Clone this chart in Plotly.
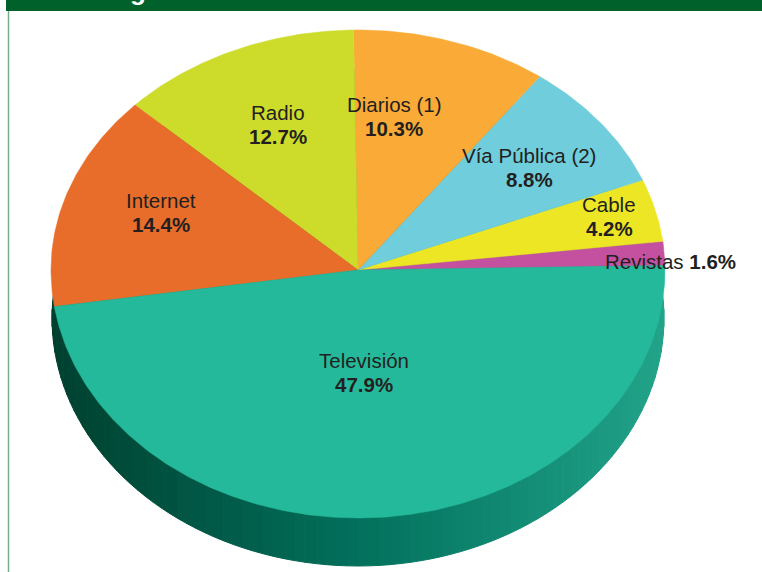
import numpy as np
import plotly.graph_objects as go

# ---- data ----
categories = ["Revistas", "Cable", "Vía Pública (2)", "Diarios (1)", "Radio", "Internet", "Televisión"]
shares = [1.6, 4.2, 8.8, 10.3, 12.7, 14.4, 47.9]
colors = ["#C4519F", "#ECE625", "#70CDDC", "#FAAA37", "#CDDC2A", "#E86D2B", "#25B99B"]

# ---- geometry (pixel canvas) ----
W, H = 762, 572
cx, cy = 358, 270
rx, ry_up, ry_dn = 307, 240, 248
bcy, brx, bry = 318, 306, 248        # bottom rim of the 3D side
start_deg = 1.1

# label placement tweaks (radius fraction, angle offset in deg)
lbl_r = [1.017, 0.847, 0.703, 0.650, 0.660, 0.684, 0.415]
lbl_da = [-1.9, 0.7, -0.3, 7.2, -0.6, -2.9, -2.1]


def ell(t, ecx, ecy, erx, ery_up, ery_dn):
    s = np.sin(t)
    return ecx + erx * np.cos(t), ecy - np.where(s >= 0, ery_up, ery_dn) * s


fig = go.Figure()


def lerp(c1, c2, f):
    a = [int(c1[i:i + 2], 16) for i in (1, 3, 5)]
    b = [int(c2[i:i + 2], 16) for i in (1, 3, 5)]
    return "#%02x%02x%02x" % tuple(int(round(a[k] + (b[k] - a[k]) * f)) for k in range(3))


def side_color(x):
    f = (x - (cx - rx)) / (2 * rx)
    if f < 0.5:
        return lerp("#00402F", "#02705C", f / 0.5)
    return lerp("#02705C", "#22A48A", (f - 0.5) / 0.5)


# side of the pie: bottom ellipse drawn in vertical gradient strips, under the top face
N = 90
ts = np.linspace(np.pi, 2 * np.pi, N + 1)
for i in range(N):
    t = np.linspace(ts[i], ts[i + 1], 4)
    xl, yl = ell(t, cx, bcy, brx, bry, bry)
    tu = -t[::-1]
    xu, yu = ell(tu, cx, bcy, brx, bry, bry)
    xs = np.concatenate([xl, xu, xl[:1]])
    ys = np.concatenate([yl, yu, yl[:1]])
    col = side_color(float(np.mean(xl)))
    fig.add_trace(go.Scatter(x=xs, y=ys, mode="lines", fill="toself", fillcolor=col,
                             line=dict(color=col, width=1), hoverinfo="skip", showlegend=False))

# top face slices
total = sum(shares)
a0 = np.deg2rad(start_deg)
bounds = []
for cat, v, col in zip(categories, shares, colors):
    a1 = a0 + 2 * np.pi * v / total
    t = np.linspace(a0, a1, max(8, int(v * 6)))
    ex, ey = ell(t, cx, cy, rx, ry_up, ry_dn)
    xs = np.concatenate([[cx], ex, [cx]])
    ys = np.concatenate([[cy], ey, [cy]])
    fig.add_trace(go.Scatter(x=xs, y=ys, mode="lines", fill="toself", fillcolor=col,
                             line=dict(color=col, width=0.5), name=cat,
                             hoverinfo="name", showlegend=False))
    bounds.append((a0, a1))
    a0 = a1

# labels
ann = []
font_reg = dict(family="Liberation Sans, Arimo, Arial, sans-serif", size=20.5, color="#231F20")
for k, (cat, v) in enumerate(zip(categories, shares)):
    amid = (bounds[k][0] + bounds[k][1]) / 2 + np.deg2rad(lbl_da[k])
    lx = cx + rx * lbl_r[k] * np.cos(amid)
    s = np.sin(amid)
    ly = cy - (ry_up if s >= 0 else ry_dn) * lbl_r[k] * s
    if k == 0:
        ann.append(dict(x=lx, y=ly, xref="x", yref="y", showarrow=False,
                        text=f"{cat} <b>{v:.1f}%</b>", font=font_reg,
                        xanchor="center", yanchor="middle"))
    else:
        ann.append(dict(x=lx, y=ly - 12, xref="x", yref="y", showarrow=False,
                        text=cat, font=font_reg, xanchor="center", yanchor="middle"))
        ann.append(dict(x=lx, y=ly + 12, xref="x", yref="y", showarrow=False,
                        text=f"<b>{v:.1f}%</b>", font=font_reg, xanchor="center", yanchor="middle"))

# fragment of header title (cut off at the top edge, as in the source)
ann.append(dict(x=138, y=8, xref="x", yref="y", showarrow=False, text="<b>g</b>",
                font=dict(family="Liberation Sans, Arial, sans-serif", size=26, color="white"),
                xanchor="center", yanchor="bottom"))

shapes = [
    dict(type="rect", xref="x", yref="y", x0=6, x1=W, y0=-5, y1=11,
         fillcolor="#00612A", line=dict(width=0), layer="below"),
    dict(type="line", xref="x", yref="y", x0=8.5, x1=8.5, y0=11, y1=H,
         line=dict(color="#7BAA8B", width=1.5), layer="below"),
]

fig.update_layout(
    width=W, height=H,
    margin=dict(l=0, r=0, t=0, b=0),
    paper_bgcolor="white", plot_bgcolor="white",
    xaxis=dict(range=[0, W], visible=False, fixedrange=True),
    yaxis=dict(range=[H, 0], visible=False, fixedrange=True),
    annotations=ann, shapes=shapes, showlegend=False,
)

fig.write_html("out.html")
